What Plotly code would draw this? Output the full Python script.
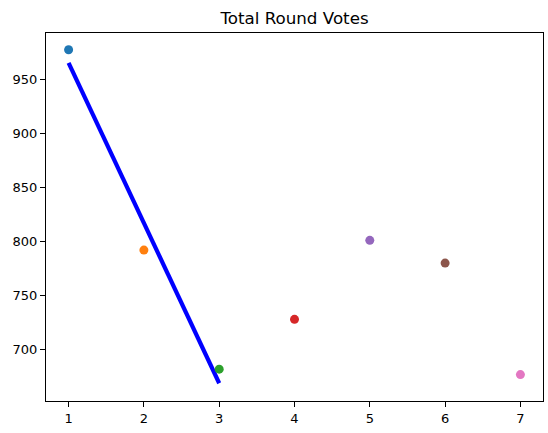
import plotly.graph_objects as go

rounds = [1, 2, 3, 4, 5, 6, 7]
votes = [977, 792, 682, 728, 801, 780, 677]
colors = ["#1f77b4", "#ff7f0e", "#2ca02c", "#d62728", "#9467bd", "#8c564b", "#e377c2"]
fit_x = [1, 3]
fit_y = [965, 669]
x_ticks = [1, 2, 3, 4, 5, 6, 7]
y_ticks = [700, 750, 800, 850, 900, 950]

fig = go.Figure()
fig.add_trace(go.Scatter(x=fit_x, y=fit_y, mode="lines",
                         line=dict(color="blue", width=4.2), showlegend=False))
for r, v, c in zip(rounds, votes, colors):
    fig.add_trace(go.Scatter(x=[r], y=[v], mode="markers",
                             marker=dict(color=c, size=9, line=dict(width=0)),
                             showlegend=False))

axis_common = dict(showgrid=False, zeroline=False, showline=True, linecolor="black",
                   linewidth=1.1, mirror=True, ticks="outside", ticklen=5,
                   tickcolor="black", tickwidth=1.1,
                   tickfont=dict(family="DejaVu Sans", size=13, color="black"))
fig.update_xaxes(range=[0.7, 7.3], tickvals=x_ticks, **axis_common)
fig.update_yaxes(range=[652.6, 992.5], tickvals=y_ticks, **axis_common)

fig.update_layout(
    width=548, height=433,
    margin=dict(l=46, r=5, t=33, b=32),
    plot_bgcolor="white", paper_bgcolor="white",
    title=dict(text="Total Round Votes", x=0.5, xref="paper", xanchor="center",
               y=1 - 18 / 433, yanchor="middle",
               font=dict(family="DejaVu Sans", size=16.7, color="black")),
)
fig.write_html("out.html", config={"displayModeBar": False},
               post_script="document.body.style.margin='0';document.body.style.overflow='hidden';")
